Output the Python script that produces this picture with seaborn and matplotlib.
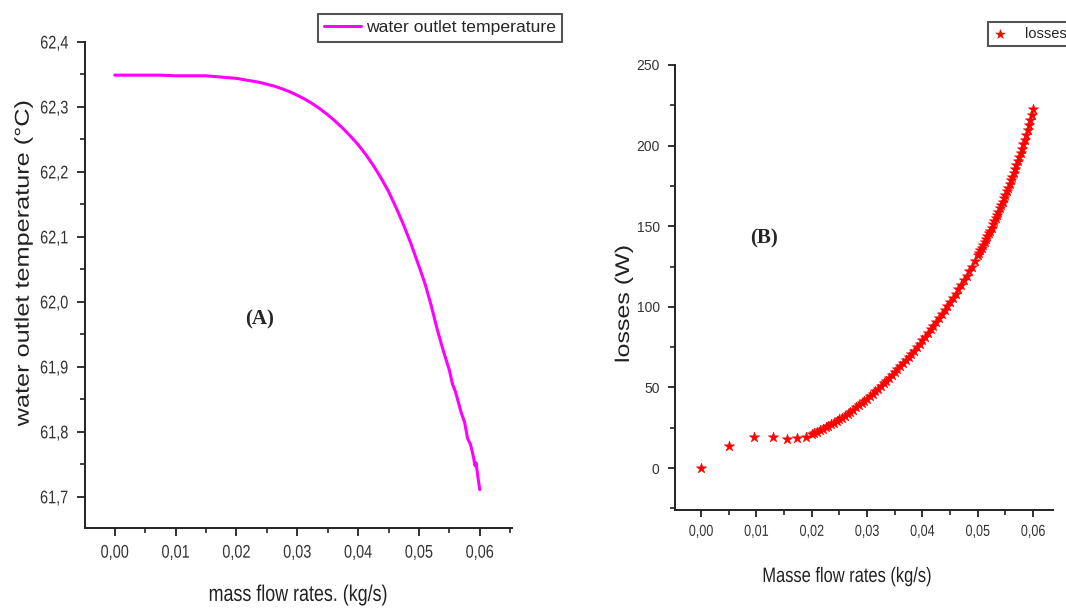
import matplotlib
matplotlib.use("Agg")
import matplotlib.pyplot as plt
from matplotlib.ticker import MultipleLocator, FuncFormatter
from matplotlib.patheffects import AbstractPathEffect
from matplotlib.transforms import Affine2D
from matplotlib.path import Path
import pandas as pd
import seaborn as sns

# Panel A: water outlet temperature vs mass flow rate
flow_a = [0.000, 0.0025, 0.005, 0.0075, 0.010, 0.0125, 0.015, 0.0175, 0.020,
          0.02125, 0.0225, 0.02375, 0.025, 0.02625, 0.0275, 0.02875, 0.030,
          0.03125, 0.0325, 0.03375, 0.035, 0.03625, 0.0375, 0.03875, 0.040,
          0.04125, 0.0425, 0.04375, 0.045, 0.04625, 0.0475, 0.04875, 0.050,
          0.051, 0.052, 0.053, 0.054, 0.055, 0.0555, 0.056, 0.0565, 0.057,
          0.0575, 0.058, 0.0585, 0.059, 0.0592, 0.0594, 0.0597, 0.060]
temp_a = [62.349, 62.349, 62.349, 62.349, 62.348, 62.348, 62.348, 62.346, 62.344,
          62.342, 62.340, 62.338, 62.335, 62.332, 62.328, 62.3235, 62.318,
          62.312, 62.305, 62.297, 62.288, 62.278, 62.267, 62.255, 62.242,
          62.227, 62.210, 62.191, 62.170, 62.145, 62.118, 62.088, 62.055,
          62.028, 61.995, 61.958, 61.925, 61.895, 61.874, 61.862, 61.845, 61.828,
          61.815, 61.790, 61.780, 61.760, 61.748, 61.752, 61.730, 61.711]

# Panel B: thermal losses vs mass flow rate
flow_b = [0.0000, 0.0050, 0.0095, 0.0130, 0.0155, 0.0174, 0.0189, 0.0200,
          0.0205, 0.0210, 0.0215, 0.0220, 0.0225, 0.0230, 0.0235, 0.0240,
          0.0245, 0.0250, 0.0255, 0.0260, 0.0265, 0.0270, 0.0275, 0.0280,
          0.0285, 0.0290, 0.0295, 0.0300, 0.0305, 0.0310, 0.0315, 0.0320,
          0.0325, 0.0330, 0.0335, 0.0340, 0.0345, 0.0350, 0.0355, 0.0360,
          0.0365, 0.0370, 0.0375, 0.0380, 0.0385, 0.0390, 0.0395, 0.0400,
          0.0405, 0.0410, 0.0415, 0.0420, 0.0425, 0.0430, 0.0435, 0.0440,
          0.0445, 0.0450, 0.0455, 0.0460, 0.0465, 0.0470, 0.0475, 0.0480,
          0.0485, 0.0490, 0.0495, 0.05000, 0.05025, 0.05050, 0.05075,
          0.05100, 0.05125, 0.05150, 0.05175, 0.05200, 0.05225, 0.05250,
          0.05275, 0.05300, 0.05325, 0.05350, 0.05375, 0.05400, 0.05425,
          0.05450, 0.05475, 0.05500, 0.05525, 0.05550, 0.05575, 0.05600,
          0.05625, 0.05650, 0.05675, 0.05700, 0.05725, 0.05750, 0.05775,
          0.05800, 0.05825, 0.05850, 0.05875, 0.05900, 0.05925, 0.05950,
          0.05975, 0.06000]
losses_b = [0.0, 13.5, 19.5, 19.5, 18.0, 18.5, 19.5, 21.0,
            21.8, 22.6, 23.4, 24.3, 25.2, 26.1, 27.1, 28.1,
            29.1, 30.2, 31.3, 32.5, 33.7, 35.0, 36.3, 37.6,
            38.9, 40.3, 41.7, 43.1, 44.6, 46.1, 47.6, 49.2,
            50.8, 52.5, 54.2, 55.9, 57.6, 59.4, 61.2, 63.1,
            65.0, 66.9, 68.9, 70.9, 72.9, 75.0, 77.1, 79.3,
            81.5, 83.7, 86.0, 88.3, 90.6, 93.0, 95.4, 97.9,
            100.4, 103.0, 105.6, 108.2, 110.9, 113.6, 116.4, 119.2,
            122.1, 125.0, 128.5, 132.0, 133.6, 135.2, 136.8,
            138.5, 140.2, 142.0, 143.7, 145.5, 147.3, 149.2,
            151.1, 153.0, 155.0, 157.0, 159.0, 161.0, 163.1,
            165.2, 167.3, 169.5, 171.7, 174.0, 176.2, 178.5,
            180.8, 183.2, 185.6, 188.0, 190.5, 193.0, 195.5,
            198.0, 200.8, 203.7, 206.6, 209.5, 212.6, 215.7,
            218.8, 222.5]

sns.set_style("ticks")
plt.rcParams["font.family"] = ["Liberation Sans", "DejaVu Sans"]
plt.rcParams["axes.linewidth"] = 1.4
plt.rcParams["axes.edgecolor"] = "#222222"

W, H = 1066, 608
fig = plt.figure(figsize=(W / 100, H / 100), dpi=100)
fig.patch.set_facecolor("white")


class SqueezeX(AbstractPathEffect):
    """Condense glyphs horizontally (narrow-face look) about a pivot."""

    def __init__(self, sx=0.79, frac=0.5):
        super().__init__()
        self.sx = sx
        self.frac = frac

    def draw_path(self, renderer, gc, tpath, affine, rgbFace=None):
        verts = tpath.vertices
        if tpath.codes is not None:
            verts = verts[tpath.codes != Path.CLOSEPOLY]
        if len(verts):
            xs = affine.transform(verts)[:, 0]
            px = xs.min() + self.frac * (xs.max() - xs.min())
        else:
            px = 0.0
        t = affine + Affine2D().translate(-px, 0).scale(self.sx, 1).translate(px, 0)
        renderer.draw_path(gc, tpath, t, rgbFace)


def box(x0, y0, x1, y1):
    return [x0 / W, 1 - y1 / H, (x1 - x0) / W, (y1 - y0) / H]


def comma(fmt):
    return FuncFormatter(lambda v, p: fmt.format(v).replace(".", ","))


def style_axes(ax):
    for s in ("top", "right"):
        ax.spines[s].set_visible(False)
    ax.tick_params(which="major", direction="out", length=6, width=1.3,
                   colors="#222222", labelcolor="#333333")
    ax.tick_params(which="minor", direction="out", length=3.5, width=1.2,
                   colors="#222222")
    ax.set_facecolor("white")
    ax.grid(False)


# ---- Panel A ----
ax1 = fig.add_axes(box(85, 42, 512, 528))
df_a = pd.DataFrame({"flow": flow_a, "temp": temp_a})
sns.lineplot(data=df_a, x="flow", y="temp", ax=ax1, color="#FF00FF",
             linewidth=2.2, label="water outlet temperature", legend=False)
ax1.set_xlim(-0.0049, 0.0653)
ax1.set_ylim(61.652, 62.4)
style_axes(ax1)
ax1.xaxis.set_major_locator(MultipleLocator(0.01))
ax1.xaxis.set_minor_locator(MultipleLocator(0.005))
ax1.yaxis.set_major_locator(MultipleLocator(0.1))
ax1.yaxis.set_minor_locator(MultipleLocator(0.05))
ax1.xaxis.set_major_formatter(comma("{:.2f}"))
ax1.yaxis.set_major_formatter(comma("{:.1f}"))
ax1.tick_params(axis="both", labelsize=13.2, pad=6)
ax1.set_xlabel("mass flow rates. (kg/s)", fontsize=16.3, color="#222222")
ax1.set_ylabel("water outlet temperature (°C)", fontsize=18.2, color="#222222")
ax1.xaxis.set_label_coords(0.499, -0.113)
ax1.yaxis.set_label_coords(-0.117, 0.545)
fig.text(260 / W, 1 - 319 / H, "(A)", fontsize=15, fontweight="bold",
         family=["Liberation Serif", "DejaVu Serif"], ha="center", va="center")
h1, l1 = ax1.get_legend_handles_labels()
leg1 = fig.legend(h1, l1, loc="upper left",
                  bbox_to_anchor=(318 / W, 1 - 14 / H), borderaxespad=0,
                  fontsize=12.6, handlelength=2.1, handletextpad=0.3,
                  borderpad=0.35, fancybox=False, framealpha=1,
                  edgecolor="#555555")
leg1.get_frame().set_linewidth(1.5)

# ---- Panel B ----
ax2 = fig.add_axes(box(675, 65, 1053, 510))
df_b = pd.DataFrame({"flow": flow_b, "losses": losses_b})
sns.scatterplot(data=df_b, x="flow", y="losses", ax=ax2, marker="*",
                color="#FF0000", edgecolor="#FF0000", s=60, linewidth=0.4,
                label="losses", legend=False)
ax2.set_xlim(-0.0047, 0.0636)
ax2.set_ylim(-26, 250)
style_axes(ax2)
ax2.xaxis.set_major_locator(MultipleLocator(0.01))
ax2.xaxis.set_minor_locator(MultipleLocator(0.005))
ax2.yaxis.set_major_locator(MultipleLocator(50))
ax2.yaxis.set_minor_locator(MultipleLocator(25))
ax2.xaxis.set_major_formatter(comma("{:.2f}"))
ax2.yaxis.set_major_formatter(FuncFormatter(lambda v, p: f"{v:.0f}"))
ax2.tick_params(axis="x", labelsize=11.5, pad=5)
ax2.tick_params(axis="y", labelsize=10, pad=6)
ax2.tick_params(which="major", length=5)
ax2.set_xlabel("Masse flow rates (kg/s)", fontsize=15, color="#222222")
ax2.set_ylabel("losses (W)", fontsize=18, color="#222222")
ax2.xaxis.set_label_coords(0.455, -0.128)
ax2.yaxis.set_label_coords(-0.105, 0.463)
fig.text(764 / W, 1 - 238 / H, "(B)", fontsize=15, fontweight="bold",
         family=["Liberation Serif", "DejaVu Serif"], ha="center", va="center")
h2, l2 = ax2.get_legend_handles_labels()
leg2 = fig.legend(h2, l2, loc="upper left",
                  bbox_to_anchor=(988 / W, 1 - 22 / H), borderaxespad=0,
                  fontsize=10.5, handlelength=1.0, handletextpad=1.2,
                  borderpad=0.35, fancybox=False, framealpha=1,
                  edgecolor="#555555", markerscale=0.9)
leg2.get_frame().set_linewidth(1.5)

# Condensed look for axis texts (tick labels and axis titles)
fig.canvas.draw()
for lab in ax1.xaxis.get_majorticklabels() + ax2.xaxis.get_majorticklabels():
    lab.set_path_effects([SqueezeX(frac=0.5)])
for lab in ax1.yaxis.get_majorticklabels():
    lab.set_path_effects([SqueezeX(frac=1.0)])
for ax in (ax1, ax2):
    ax.xaxis.label.set_path_effects([SqueezeX(frac=0.5)])
    ax.yaxis.label.set_path_effects([SqueezeX(frac=0.5)])

fig.savefig("out.png", dpi=100)
